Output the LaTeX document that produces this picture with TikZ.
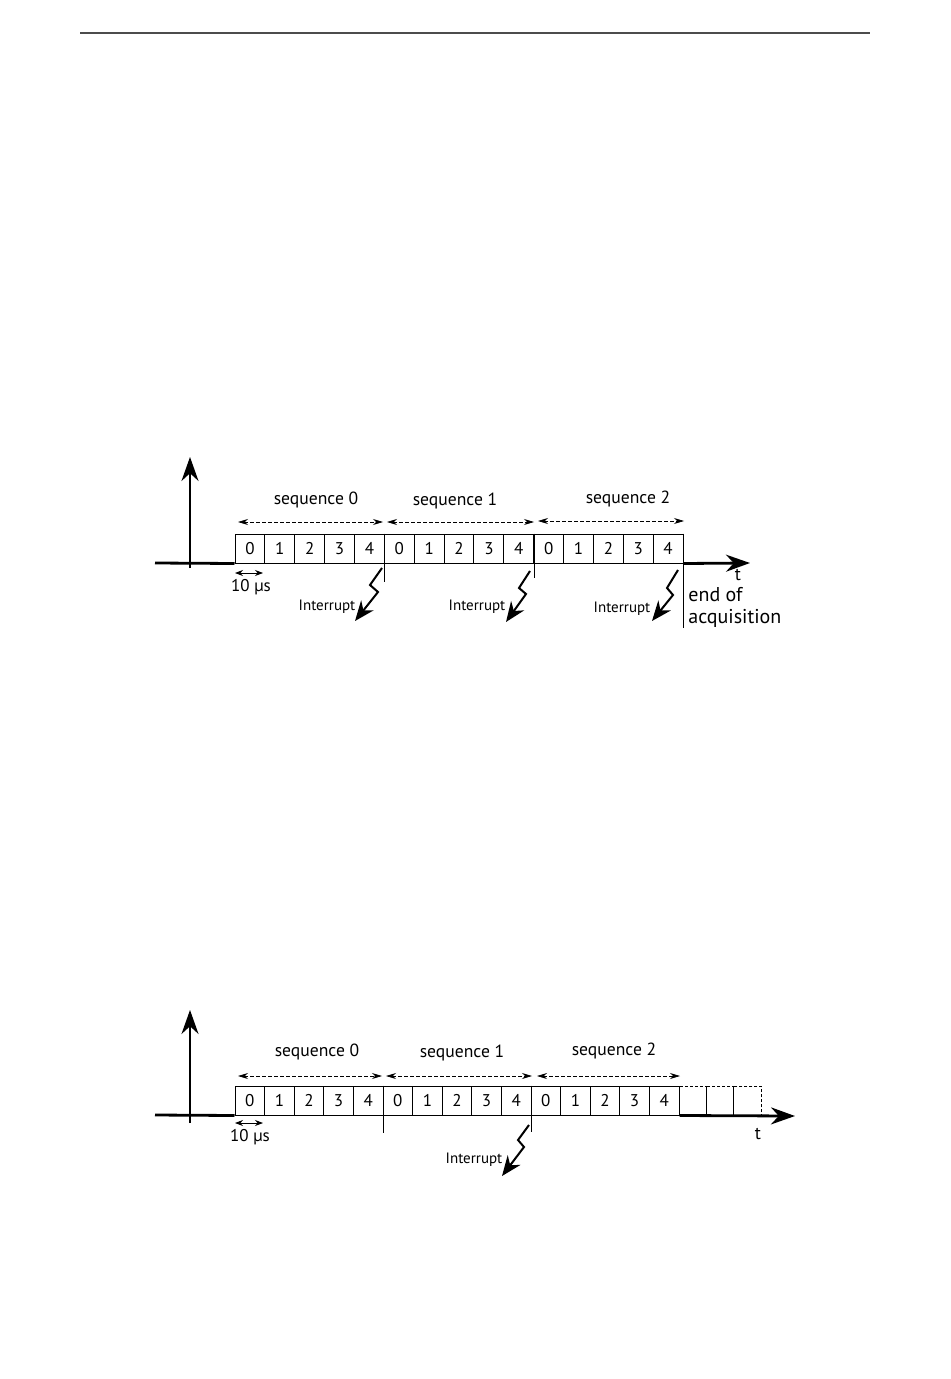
\documentclass[tikz,border=0pt]{standalone}
\usepackage{fontspec}
\setmainfont{PT Sans}
\usetikzlibrary{arrows.meta}
\begin{document}
\begin{tikzpicture}[x=0.5pt,y=-0.5pt,
  cell/.style={draw,line width=0.5pt,minimum width=14.935pt,minimum height=14.5pt,inner sep=0pt,font=\fontsize{8.5}{9}\selectfont},
  cellB/.style={cell,minimum width=14.8pt},
  ghost/.style={draw,dashed,dash pattern=on 1.5pt off 1pt,line width=0.4pt,minimum width=13.67pt,minimum height=14.5pt,inner sep=0pt},
  seqarrow/.style={dash pattern=on 2pt off 1pt,line width=0.4pt,{Stealth[length=5pt,width=3pt]}-{Stealth[length=5pt,width=3pt]}},
  axisline/.style={line width=1.4pt,-{Stealth[length=12pt,width=8.5pt]}},
  vaxis/.style={line width=1pt,-{Stealth[length=12pt,width=8.5pt]}},
  bolt/.style={line width=1pt,-{Stealth[length=10pt,width=8pt]}},
  sep/.style={line width=0.5pt},
  seqlabel/.style={font=\fontsize{8.8}{10}\selectfont,inner sep=0pt},
  intlabel/.style={font=\fontsize{7.5}{8}\selectfont,inner sep=0pt},
  small/.style={font=\fontsize{8.5}{9}\selectfont,inner sep=0pt},
  tiny/.style={line width=0.4pt,{Stealth[length=4pt,width=3pt]}-{Stealth[length=4pt,width=3pt]}}]
\useasboundingbox (0,0) rectangle (950,1379);
\fill[white] (0,0) rectangle (950,1379);
% header rule
\coordinate (hl) at (80,33);
\coordinate (hr) at (870,33);
\draw[line width=0.75pt,black!70] (hl) -- (hr);

%%%%%%%%%%%%%%%% Diagram A %%%%%%%%%%%%%%%%
\foreach \k in {0,...,14}{
  \pgfmathsetmacro\xx{235+29.87*(\k+0.5)}
  \pgfmathtruncatemacro\nn{mod(\k,5)}
  \node[cell] (A-c\k) at (\xx,548.5) {\nn};
}
\coordinate (A-o) at (155,563);
\coordinate (A-vb) at (190,568);
\coordinate (A-vt) at (190,457);
\coordinate (A-te) at (750,563);
\draw[vaxis] (A-vb) -- (A-vt);
\draw[line width=1.4pt] (A-o) -- (A-c0.south west);
\draw[axisline] (A-c14.south east) -- (A-te);
% separators
\coordinate (A-s1) at (A-c4.north east);
\coordinate (A-s1b) at (A-c4.north east |- 0,582);
\coordinate (A-s2) at (A-c9.north east);
\coordinate (A-s2b) at (A-c9.north east |- 0,578);
\coordinate (A-s3) at (A-c14.north east);
\coordinate (A-s3b) at (A-c14.north east |- 0,628);
\draw[sep] (A-s1) -- (A-s1b);
\draw[sep] (A-s2) -- (A-s2b);
\draw[sep] (A-s3) -- (A-s3b);
% sequence arrows
\coordinate (A-a0l) at (238,522); \coordinate (A-a0r) at (383,522);
\coordinate (A-a1l) at (387,522); \coordinate (A-a1r) at (534,522);
\coordinate (A-a2l) at (538,521); \coordinate (A-a2r) at (684,521);
\draw[seqarrow] (A-a0l) -- (A-a0r);
\draw[seqarrow] (A-a1l) -- (A-a1r);
\draw[seqarrow] (A-a2l) -- (A-a2r);
\node[seqlabel] (A-l0) at (316,500) {sequence 0};
\node[seqlabel] (A-l1) at (455,501) {sequence 1};
\node[seqlabel] (A-l2) at (628,499) {sequence 2};
% 10 us
\coordinate (A-ul) at (235,573); \coordinate (A-ur) at (263,573);
\draw[tiny] (A-ul) -- (A-ur);
\node[small] (A-us) at (251,587) {10 µs};
% interrupts
\coordinate (A-b1a) at (382,568); \coordinate (A-b1b) at (370,585);
\coordinate (A-b1c) at (378,592); \coordinate (A-b1d) at (355,621);
\draw[bolt] (A-b1a) -- (A-b1b) -- (A-b1c) -- (A-b1d);
\node[intlabel] (A-i1) at (327,607) {Interrupt};
\coordinate (A-b2a) at (530,571); \coordinate (A-b2b) at (519,588);
\coordinate (A-b2c) at (526,594); \coordinate (A-b2d) at (506,622);
\draw[bolt] (A-b2a) -- (A-b2b) -- (A-b2c) -- (A-b2d);
\node[intlabel] (A-i2) at (477,607) {Interrupt};
\coordinate (A-b3a) at (678,570); \coordinate (A-b3b) at (667,588);
\coordinate (A-b3c) at (673,595); \coordinate (A-b3d) at (652,621);
\draw[bolt] (A-b3a) -- (A-b3b) -- (A-b3c) -- (A-b3d);
\node[intlabel] (A-i3) at (622,609) {Interrupt};
\node[small,font=\fontsize{9}{10}\selectfont] (A-t) at (738,575) {t};
\node[inner sep=0pt,anchor=west,align=left,font=\fontsize{10}{11}\selectfont] (A-end) at (688,607) {end of\\acquisition};

%%%%%%%%%%%%%%%% Diagram B %%%%%%%%%%%%%%%%
\foreach \k in {0,...,14}{
  \pgfmathsetmacro\xx{235+29.6*(\k+0.5)}
  \pgfmathtruncatemacro\nn{mod(\k,5)}
  \node[cellB] (B-c\k) at (\xx,1100.5) {\nn};
}
\foreach \k in {0,1,2}{
  \pgfmathsetmacro\xx{679+27.33*(\k+0.5)}
  \node[ghost] (B-g\k) at (\xx,1100.5) {};
}
\coordinate (B-o) at (155,1115);
\coordinate (B-vb) at (190,1123);
\coordinate (B-vt) at (190,1010);
\coordinate (B-te) at (795,1116);
\draw[vaxis] (B-vb) -- (B-vt);
\draw[line width=1.4pt] (B-o) -- (B-c0.south west);
\draw[axisline] (B-c14.south east) -- (B-te);
\coordinate (B-s1) at (B-c4.north east);
\coordinate (B-s1b) at (B-c4.north east |- 0,1133);
\coordinate (B-s2) at (B-c9.north east);
\coordinate (B-s2b) at (B-c9.north east |- 0,1132);
\draw[sep] (B-s1) -- (B-s1b);
\draw[sep] (B-s2) -- (B-s2b);
\coordinate (B-a0l) at (238,1076); \coordinate (B-a0r) at (382,1076);
\coordinate (B-a1l) at (386,1076); \coordinate (B-a1r) at (532,1076);
\coordinate (B-a2l) at (537,1076); \coordinate (B-a2r) at (680,1076);
\draw[seqarrow] (B-a0l) -- (B-a0r);
\draw[seqarrow] (B-a1l) -- (B-a1r);
\draw[seqarrow] (B-a2l) -- (B-a2r);
\node[seqlabel] (B-l0) at (317,1052) {sequence 0};
\node[seqlabel] (B-l1) at (462,1053) {sequence 1};
\node[seqlabel] (B-l2) at (614,1051) {sequence 2};
\coordinate (B-ul) at (235,1123); \coordinate (B-ur) at (263,1123);
\draw[tiny] (B-ul) -- (B-ur);
\node[small] (B-us) at (250,1137) {10 µs};
\coordinate (B-b1a) at (529,1125); \coordinate (B-b1b) at (518,1140);
\coordinate (B-b1c) at (524,1147); \coordinate (B-b1d) at (502,1176);
\draw[bolt] (B-b1a) -- (B-b1b) -- (B-b1c) -- (B-b1d);
\node[intlabel] (B-i1) at (474,1160) {Interrupt};
\node[small,font=\fontsize{9}{10}\selectfont] (B-t) at (758,1134) {t};
\end{tikzpicture}
\end{document}
